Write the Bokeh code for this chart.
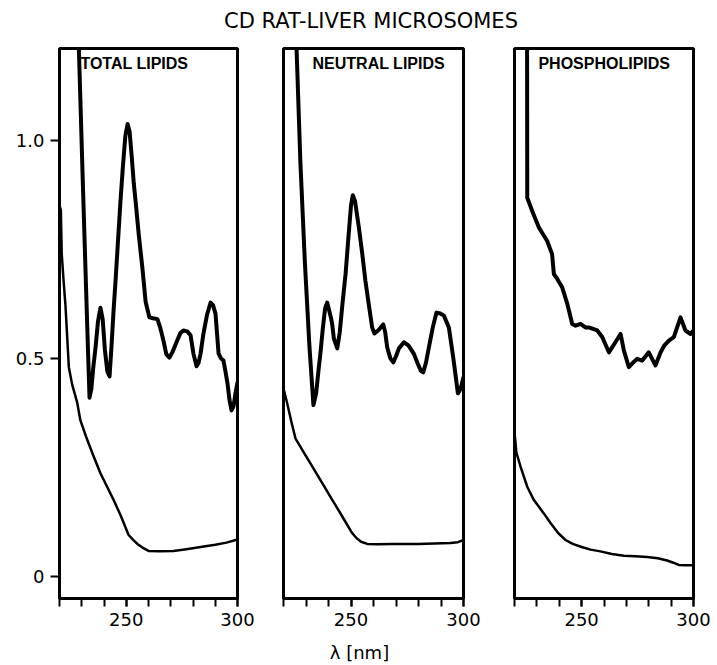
from bokeh.plotting import figure
from bokeh.layouts import row, column
from bokeh.models import Range1d, FixedTicker, Label
from bokeh.embed import file_html
from bokeh.resources import INLINE

# ---------------- data ----------------
chart_title = "CD RAT-LIVER MICROSOMES"
x_label = "λ [nm]"
panel_names = ["TOTAL LIPIDS", "NEUTRAL LIPIDS", "PHOSPHOLIPIDS"]

x_major_ticks = [250, 300]
x_minor_ticks = [220, 230, 240, 250, 260, 270, 280, 290, 300]
y_ticks = [0, 0.5, 1.0]
y_tick_labels = ["0", "0.5", "1.0"]

# TOTAL LIPIDS
total_upper_wl = [220, 228.0, 228.7, 229.4, 230.5, 231.7, 232.8, 233.5, 234.3, 235.2,
                  236.2, 237.3, 238.4, 239.4, 240.4, 241.5, 242.5, 243.4, 244.3, 245.2,
                  246.3, 247.4, 248.5, 249.6, 250.6, 251.5, 252.5, 253.4, 254.2, 255.7,
                  257.2, 258.7, 260.4, 262.0, 264.0, 265.3, 266.7, 268.0, 269.4, 270.8,
                  272.9, 274.3, 275.7, 277.4, 278.9, 280.2, 281.6, 282.5, 283.4, 284.7,
                  286.3, 287.9, 289.0, 290.1, 291.5, 292.6, 293.7, 294.6, 295.5, 296.4,
                  297.3, 298.2, 299.1, 300]
total_upper_ab = [1.30, 1.30, 1.21, 1.09, 0.90, 0.70, 0.52, 0.41, 0.43, 0.48,
                  0.525, 0.585, 0.616, 0.59, 0.52, 0.47, 0.459, 0.53, 0.61, 0.678,
                  0.77, 0.86, 0.94, 1.01, 1.037, 1.02, 0.96, 0.90, 0.86, 0.78,
                  0.71, 0.63, 0.594, 0.592, 0.59, 0.57, 0.541, 0.51, 0.502, 0.515,
                  0.541, 0.558, 0.564, 0.562, 0.553, 0.511, 0.482, 0.49, 0.511, 0.557,
                  0.60, 0.628, 0.622, 0.603, 0.511, 0.50, 0.495, 0.47, 0.443, 0.405,
                  0.381, 0.39, 0.42, 0.445]
total_lower_wl = [220, 220.6, 221.0, 221.8, 222.7, 224.2, 225.7, 227.9, 229.4, 232.0,
                  235.0, 238.4, 241.5, 244.3, 247.5, 251.0, 253.0, 255.0, 257.5, 260.0,
                  265.0, 271.2, 277.0, 283.4, 290.0, 295.0, 300]
total_lower_ab = [0.85, 0.84, 0.74, 0.68, 0.62, 0.48, 0.44, 0.40, 0.358, 0.32,
                  0.28, 0.237, 0.205, 0.176, 0.14, 0.096, 0.085, 0.075, 0.066, 0.059,
                  0.058, 0.059, 0.063, 0.068, 0.073, 0.078, 0.085]

# NEUTRAL LIPIDS
neutral_upper_wl = [220, 225.0, 225.8, 227.5, 229.5, 231.5, 233.3, 234.5, 235.5, 236.4,
                    237.5, 238.5, 239.4, 240.3, 241.0, 241.6, 242.4, 243.9, 245.0, 246.3,
                    247.6, 248.9, 250.0, 250.8, 251.8, 253.5, 255.0, 256.4, 258.0, 259.4,
                    260.4, 262.3, 264.3, 265.2, 266.1, 267.5, 268.8, 270.0, 271.3, 273.5,
                    275.5, 277.9, 279.5, 281.0, 282.1, 283.3, 284.6, 286.3, 288.0, 289.7,
                    291.3, 293.5, 295.5, 297.5, 298.7, 300]
neutral_upper_ab = [1.30, 1.30, 1.21, 0.95, 0.72, 0.53, 0.393, 0.42, 0.47, 0.511,
                    0.57, 0.615, 0.628, 0.61, 0.595, 0.58, 0.545, 0.523, 0.56, 0.63,
                    0.694, 0.78, 0.85, 0.874, 0.86, 0.80, 0.74, 0.678, 0.62, 0.571,
                    0.557, 0.565, 0.578, 0.56, 0.525, 0.50, 0.491, 0.505, 0.523, 0.537,
                    0.53, 0.511, 0.49, 0.472, 0.468, 0.49, 0.525, 0.57, 0.605, 0.603,
                    0.598, 0.571, 0.50, 0.42, 0.43, 0.457]
neutral_lower_wl = [220, 221.5, 223.5, 225.3, 229.0, 233.3, 237.5, 241.8, 246.0, 250.5,
                    252.5, 254.5, 257.2, 262.0, 268.0, 273.3, 280.0, 287.0, 294.2, 297.5,
                    299.0, 300]
neutral_lower_ab = [0.431, 0.40, 0.355, 0.317, 0.285, 0.248, 0.212, 0.175, 0.139, 0.10,
                    0.088, 0.08, 0.075, 0.074, 0.075, 0.075, 0.075, 0.076, 0.077, 0.079,
                    0.082, 0.084]

# PHOSPHOLIPIDS
phospho_upper_wl = [225.6, 225.7, 227.9, 230.9, 234.6, 236.8, 237.6, 239.1, 241.3, 243.6,
                    245.8, 247.3, 249.5, 251.7, 253.2, 257.0, 259.2, 262.2, 265.1, 267.4,
                    268.9, 271.1, 273.3, 274.8, 277.1, 280.0, 283.0, 285.3, 287.0, 289.0,
                    291.2, 294.2, 296.4, 298.7, 300]
phospho_upper_ab = [1.30, 0.868, 0.838, 0.80, 0.769, 0.739, 0.693, 0.682, 0.663, 0.625,
                    0.579, 0.575, 0.579, 0.571, 0.571, 0.564, 0.549, 0.514, 0.537, 0.556,
                    0.518, 0.48, 0.492, 0.499, 0.495, 0.514, 0.484, 0.514, 0.53, 0.541,
                    0.549, 0.594, 0.564, 0.556, 0.564]
phospho_lower_wl = [220, 220.4, 220.8, 222.7, 225.7, 228.6, 233.1, 236.1, 239.5, 242.8,
                    246.0, 250.0, 254.0, 258.4, 263.5, 268.9, 274.0, 279.3, 284.0, 288.2,
                    291.0, 293.4, 296.0, 300]
phospho_lower_ab = [0.33, 0.31, 0.285, 0.252, 0.206, 0.176, 0.145, 0.123, 0.10, 0.084,
                    0.075, 0.068, 0.062, 0.058, 0.052, 0.048, 0.047, 0.045, 0.042, 0.037,
                    0.032, 0.027, 0.026, 0.026]

# ---------------- styling / layout ----------------
FONT = "DejaVu Sans"
LABEL_FONT = "Liberation Sans"
TOTAL_W = 715
TITLE_H = 38
XLAB_H = 30
FRAME_H = 550
TOP_B, BOT_B = 10, 36


def make_panel(name, uw, ua, lw, la, label_x, width, left, right, show_y):
    p = figure(width=width, height=TOP_B + FRAME_H + BOT_B,
               x_range=Range1d(220, 300), y_range=Range1d(-0.050, 1.21),
               output_backend="svg", toolbar_location=None,
               min_border_left=left, min_border_right=right,
               min_border_top=TOP_B, min_border_bottom=BOT_B,
               y_axis_location="left" if show_y else None)
    p.grid.visible = False
    p.background_fill_color = "white"
    p.border_fill_color = "white"
    p.outline_line_color = "black"
    p.outline_line_width = 3
    p.outline_line_alpha = 1.0

    xa = p.xaxis[0]
    xa.ticker = FixedTicker(ticks=x_major_ticks, minor_ticks=x_minor_ticks)
    xa.axis_line_color = "black"
    xa.axis_line_width = 3
    xa.major_tick_out = 8
    xa.major_tick_in = 0
    xa.minor_tick_out = 8
    xa.minor_tick_in = 0
    xa.major_tick_line_width = 2
    xa.minor_tick_line_width = 2
    xa.major_tick_line_color = "black"
    xa.minor_tick_line_color = "black"
    xa.major_label_text_font = FONT
    xa.major_label_text_font_size = "18px"
    xa.major_label_text_color = "black"
    xa.major_label_standoff = 6

    if show_y:
        ya = p.yaxis[0]
        ya.ticker = FixedTicker(ticks=y_ticks, minor_ticks=[])
        ya.major_label_overrides = {t: s for t, s in zip(y_ticks, y_tick_labels)}
        ya.axis_line_color = "black"
        ya.axis_line_width = 3
        ya.major_tick_out = 9
        ya.major_tick_in = 0
        ya.major_tick_line_width = 2
        ya.major_tick_line_color = "black"
        ya.minor_tick_line_color = None
        ya.major_label_text_font = FONT
        ya.major_label_text_font_size = "18px"
        ya.major_label_text_color = "black"
        ya.major_label_standoff = 6

    p.line(lw, la, line_color="black", line_width=2.5, line_join="round", line_cap="round")
    p.line(uw, ua, line_color="black", line_width=4, line_join="round", line_cap="round")

    p.add_layout(Label(x=label_x, y=1.176, text=name, text_font=LABEL_FONT,
                       text_font_style="bold", text_font_size="16px",
                       text_baseline="middle", text_align="left", text_color="black"))
    return p


def text_strip(height, text, x, y, size):
    # strip with pixel-valued ranges so the text sits where the reference has it
    s = figure(width=TOTAL_W, height=height, x_range=Range1d(0, TOTAL_W), y_range=Range1d(0, height),
               output_backend="svg", toolbar_location=None,
               min_border_left=0, min_border_right=0, min_border_top=0, min_border_bottom=0,
               x_axis_location=None, y_axis_location=None)
    s.grid.visible = False
    s.outline_line_color = None
    s.background_fill_color = "white"
    s.border_fill_color = "white"
    s.add_layout(Label(x=x, y=y, text=text, text_font=FONT, text_font_size=size,
                       text_align="center", text_baseline="middle", text_color="black"))
    return s


tp = text_strip(TITLE_H, chart_title, 370.5, TITLE_H - 20, "21px")
bp = text_strip(XLAB_H, x_label, 359, XLAB_H - 18, "18px")

p1 = make_panel(panel_names[0], total_upper_wl, total_upper_ab, total_lower_wl, total_lower_ab,
                229.4, 260, 59, 23, True)
p2 = make_panel(panel_names[1], neutral_upper_wl, neutral_upper_ab, neutral_lower_wl, neutral_lower_ab,
                232.9, 228, 23, 25, False)
p3 = make_panel(panel_names[2], phospho_upper_wl, phospho_upper_ab, phospho_lower_wl, phospho_lower_ab,
                230.7, 227, 26, 22, False)

layout = column(tp, row(p1, p2, p3), bp)

with open("out.html", "w") as f:
    f.write(file_html(layout, INLINE))
